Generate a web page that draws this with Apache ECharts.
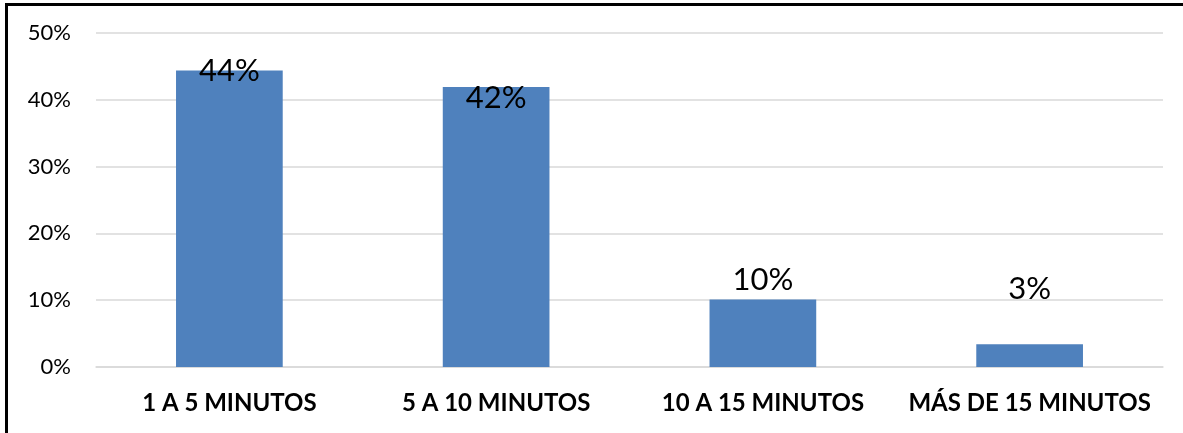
<!DOCTYPE html>
<html>
<head>
<meta charset="utf-8">
<script src="https://cdn.jsdelivr.net/npm/echarts@6/dist/echarts.min.js"></script>
<style>
  html, body { margin: 0; padding: 0; background: #fff; }
  #frame {
    position: absolute; left: 5px; top: 3px; width: 1190px; height: 440px;
    border-top: 3px solid #000; border-left: 3px solid #000;
  }
  #chart { position: absolute; left: 0; top: 0; width: 1183px; height: 433px; }
</style>
</head>
<body>
<div id="frame"></div>
<div id="chart"></div>
<script>
// categories and values (percent)
const categories = ['1 A 5 MINUTOS', '5 A 10 MINUTOS', '10 A 15 MINUTOS', 'MÁS DE 15 MINUTOS'];
const values = [44.4, 41.9, 10.1, 3.4];
const yTicks = [0, 10, 20, 30, 40, 50];

// label nudges, as placed in the original
const labelOffsets = [[0, 22], [0, 32], [0, 2], [0, -34]];

const myChart = echarts.init(document.getElementById('chart'));
const option = {
  animation: false,
  grid: { left: 96, right: 20, top: 33, bottom: 66 },
  xAxis: {
    type: 'category',
    data: categories,
    axisLine: { lineStyle: { color: '#d9d9d9', width: 1.5 } },
    axisTick: { show: false },
    axisLabel: {
      interval: 0,
      color: '#000', fontFamily: 'Lato', fontWeight: 'bold', fontSize: 24, margin: 24
    }
  },
  yAxis: {
    type: 'value',
    min: yTicks[0],
    max: yTicks[yTicks.length - 1],
    interval: 10,
    axisLine: { show: false },
    axisTick: { show: false },
    splitLine: { lineStyle: { color: '#d9d9d9', width: 1.5 } },
    axisLabel: {
      color: '#000', fontFamily: 'Lato', fontSize: 22, margin: 25,
      formatter: '{value}%'
    }
  },
  series: [{
    type: 'bar',
    barCategoryGap: '60%',
    itemStyle: { color: '#4f81bd' },
    data: values.map(function (v, i) {
      return { value: v, label: { offset: labelOffsets[i] } };
    }),
    label: {
      show: true,
      position: 'top',
      distance: 6,
      color: '#000',
      fontFamily: 'Lato',
      fontSize: 31,
      formatter: function (p) { return Math.round(p.value) + '%'; }
    }
  }]
};
myChart.setOption(option);
window.addEventListener('resize', function () { myChart.resize(); });
</script>
</body>
</html>
